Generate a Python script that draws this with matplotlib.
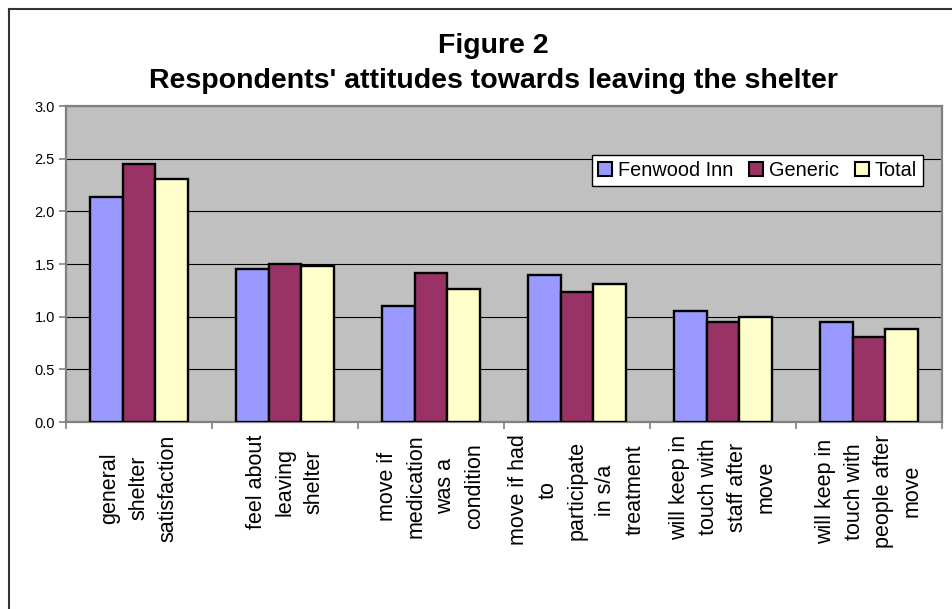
import matplotlib

matplotlib.use("Agg")

import matplotlib.pyplot as plt
import numpy as np
from matplotlib.lines import Line2D

categories = [
    "general\nshelter\nsatisfaction",
    "feel about\nleaving\nshelter",
    "move if\nmedication\nwas a\ncondition",
    "move if had\nto\nparticipate\nin s/a\ntreatment",
    "will keep in\ntouch with\nstaff after\nmove",
    "will keep in\ntouch with\npeople after\nmove",
]
series_names = ["Fenwood Inn", "Generic", "Total"]
fenwood = [2.14, 1.45, 1.10, 1.40, 1.05, 0.95]
generic = [2.45, 1.50, 1.41, 1.23, 0.95, 0.81]
total = [2.31, 1.48, 1.26, 1.31, 1.00, 0.88]
y_ticks = [0.0, 0.5, 1.0, 1.5, 2.0, 2.5, 3.0]
title_lines = ["Figure 2", "Respondents' attitudes towards leaving the shelter"]

colors = ["#9999FF", "#993366", "#FFFFCC"]
W, H = 952, 609


def main():
    plt.rcParams["font.family"] = ["Liberation Sans", "DejaVu Sans"]

    fig = plt.figure(figsize=(W / 100, H / 100), dpi=100)
    fig.patch.set_facecolor("white")

    # plot area in pixel coords
    left, right, top, bottom = 66, 942, 106, 422
    ax = fig.add_axes([left / W, 1 - bottom / H, (right - left) / W, (bottom - top) / H])
    ax.set_facecolor("#C0C0C0")

    x = np.arange(len(categories))
    bar_w = 0.224
    for i, (name, vals) in enumerate(zip(series_names, [fenwood, generic, total])):
        ax.bar(
            x + (i - 1) * bar_w,
            vals,
            width=bar_w,
            color=colors[i],
            edgecolor="black",
            linewidth=1.7,
            label=name,
            zorder=3,
        )

    ax.set_xlim(-0.5, len(categories) - 0.5)
    ax.set_ylim(0, 3.0)
    ax.set_yticks(y_ticks)
    ax.set_yticklabels([f"{v:.1f}" for v in y_ticks], fontsize=10.5)
    ax.yaxis.grid(True, color="black", linewidth=0.8, zorder=1)
    ax.set_axisbelow(True)

    # ticks between groups, labels at centers
    ax.set_xticks(np.arange(len(categories) + 1) - 0.5)
    ax.set_xticklabels([])
    ax.set_xticks(x, minor=True)
    ax.set_xticklabels(categories, minor=True, rotation=90, fontsize=15.5,
                       multialignment="center", va="top", ha="center", linespacing=1.5)
    ax.tick_params(axis="x", which="minor", length=0, pad=9)
    ax.tick_params(axis="x", which="major", length=5, color="#808080", width=1.2)
    ax.tick_params(axis="y", length=5, color="#808080", width=1.2, pad=3)

    for sp in ax.spines.values():
        sp.set_color("#808080")
        sp.set_linewidth(1.6)

    # two title lines, placed by baseline
    for line, base_y in zip(title_lines, [53, 88]):
        fig.text(493 / W, 1 - base_y / H, line, ha="center", va="baseline",
                 fontsize=20.5, fontweight="bold")

    leg = ax.legend(
        loc="upper right",
        bbox_to_anchor=(923 / W, 1 - 155 / H),
        bbox_transform=fig.transFigure,
        ncol=3,
        fontsize=14.3,
        frameon=True,
        fancybox=False,
        borderaxespad=0,
        handlelength=0.7,
        handleheight=0.7,
        handletextpad=0.3,
        columnspacing=0.8,
        borderpad=0.3,
    )
    leg.get_frame().set_edgecolor("black")
    leg.get_frame().set_linewidth(1.0)
    leg.get_frame().set_facecolor("white")
    leg.get_frame().set_alpha(1)
    for handle in leg.legend_handles:
        handle.set_linewidth(1.5)

    # chart border (left and top)
    fig.add_artist(Line2D([8.5 / W, 8.5 / W], [0, 1 - 9 / H], color="#333333", linewidth=1.5))
    fig.add_artist(Line2D([8.5 / W, 1], [1 - 9 / H, 1 - 9 / H], color="#333333", linewidth=1.5))

    fig.savefig("out.png", dpi=100)
    plt.close(fig)


if __name__ == "__main__":
    main()
